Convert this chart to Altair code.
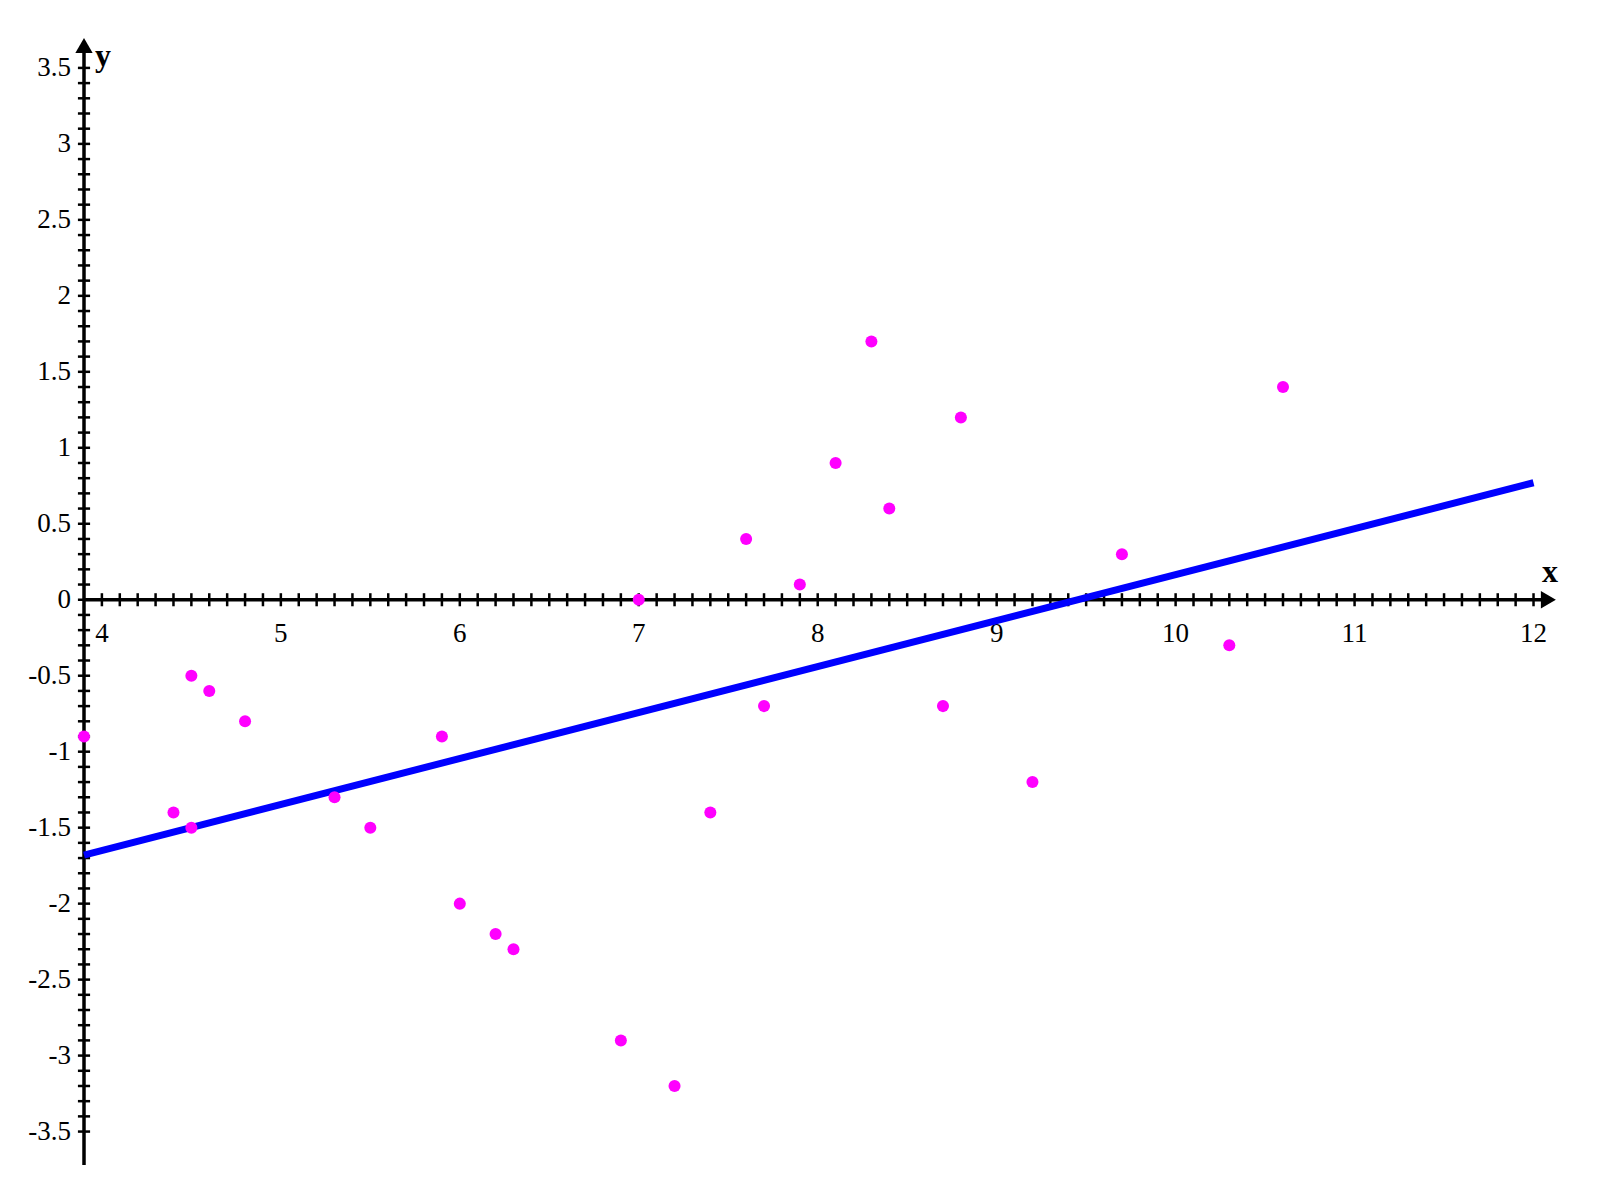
import altair as alt
import numpy as np
import pandas as pd

# ---- data ----
x_vals = [3.9, 4.4, 4.5, 4.5, 4.6, 4.8, 5.3, 5.5, 5.9, 6.0, 6.2, 6.3, 6.9, 7.0,
          7.2, 7.4, 7.6, 7.7, 7.9, 8.1, 8.3, 8.4, 8.7, 8.8, 9.2, 9.7, 10.3, 10.6]
y_vals = [-0.9, -1.4, -0.5, -1.5, -0.6, -0.8, -1.3, -1.5, -0.9, -2.0, -2.2, -2.3, -2.9, 0.0,
          -3.2, -1.4, 0.4, -0.7, 0.1, 0.9, 1.7, 0.6, -0.7, 1.2, -1.2, 0.3, -0.3, 1.4]
fit_x = [3.9, 12.0]
fit_y = [-1.68, 0.77]

x_label_vals = [4, 5, 6, 7, 8, 9, 10, 11, 12]
x_label_text = ["4", "5", "6", "7", "8", "9", "10", "11", "12"]
y_label_vals = [3.5, 3.0, 2.5, 2.0, 1.5, 1.0, 0.5, 0.0, -0.5, -1.0, -1.5, -2.0, -2.5, -3.0, -3.5]
y_label_text = ["3.5", "3", "2.5", "2", "1.5", "1", "0.5", "0", "-0.5", "-1", "-1.5",
                "-2", "-2.5", "-3", "-3.5"]

X_MIN, X_MAX = 3.9, 12.12
Y_MIN, Y_MAX = -3.72, 3.71
FONT = "Liberation Serif"

xs = alt.Scale(domain=[X_MIN, X_MAX], nice=False, zero=False)
ys = alt.Scale(domain=[Y_MIN, Y_MAX], nice=False, zero=False)


def X(f="x"):
    return alt.X(f"{f}:Q", scale=xs, axis=None)


def Y(f="y"):
    return alt.Y(f"{f}:Q", scale=ys, axis=None)


# axis lines
xaxis_df = pd.DataFrame({"x": [X_MIN], "x2": [12.05], "y": [0.0]})
yaxis_df = pd.DataFrame({"x": [X_MIN], "y": [Y_MIN], "y2": [3.6]})
xaxis = alt.Chart(xaxis_df).mark_rule(color="black", strokeWidth=3.5).encode(
    x=X(), x2="x2:Q", y=Y())
yaxis = alt.Chart(yaxis_df).mark_rule(color="black", strokeWidth=3.5).encode(
    x=X(), y=Y(), y2="y2:Q")

# minor ticks
tx = np.round(np.arange(4.0, 12.0001, 0.1), 2)
ty = np.round(np.arange(-3.5, 3.5001, 0.1), 2)
xt_df = pd.DataFrame({"x": tx, "y": -0.043, "y2": 0.043})
yt_df = pd.DataFrame({"y": ty, "x": X_MIN - 0.034, "x2": X_MIN + 0.034})
xticks = alt.Chart(xt_df).mark_rule(color="black", strokeWidth=2.5).encode(
    x=X(), y=Y(), y2="y2:Q")
yticks = alt.Chart(yt_df).mark_rule(color="black", strokeWidth=2.5).encode(
    x=X(), x2="x2:Q", y=Y())

# arrows
arr_df = pd.DataFrame({"x": [12.083, X_MIN], "y": [0.0, 3.648],
                       "shape": ["triangle-right", "triangle-up"]})
arrows = alt.Chart(arr_df).mark_point(filled=True, size=300, color="black", opacity=1).encode(
    x=X(), y=Y(), shape=alt.Shape("shape:N", scale=None, legend=None))

# tick labels
xl_df = pd.DataFrame({"x": x_label_vals, "y": 0.0, "t": x_label_text})
yl_df = pd.DataFrame({"y": y_label_vals, "x": X_MIN, "t": y_label_text})
xlabels = alt.Chart(xl_df).mark_text(font=FONT, fontSize=27, color="black", baseline="alphabetic",
                                     align="center", dy=42).encode(x=X(), y=Y(), text="t:N")
ylabels = alt.Chart(yl_df).mark_text(font=FONT, fontSize=27, color="black", baseline="middle",
                                     align="right", dx=-13).encode(x=X(), y=Y(), text="t:N")

# axis titles
tt_df = pd.DataFrame({"x": [12.047, 3.961], "y": [0.118, 3.513], "t": ["x", "y"]})
titles = alt.Chart(tt_df).mark_text(font=FONT, fontSize=32, fontWeight="bold", color="black",
                                    align="left", baseline="alphabetic").encode(
    x=X(), y=Y(), text="t:N")

# fitted line and points
line_df = pd.DataFrame({"x": fit_x, "y": fit_y})
line = alt.Chart(line_df).mark_line(color="#0000FF", strokeWidth=7).encode(x=X(), y=Y())

pts_df = pd.DataFrame({"x": x_vals, "y": y_vals})
points = alt.Chart(pts_df).mark_point(shape="circle", filled=True, size=145,
                                      color="#FF00FF", opacity=1).encode(x=X(), y=Y())

chart = alt.layer(xaxis, yaxis, xticks, yticks, arrows, xlabels, ylabels, titles, line, points).properties(
    width=1471, height=1129,
    padding={"left": 76, "top": 28, "right": 20, "bottom": 20},
    autosize=alt.AutoSizeParams(type="none"),
).configure_view(stroke=None)

chart.save("out.html", embed_options={"renderer": "svg", "actions": False})
